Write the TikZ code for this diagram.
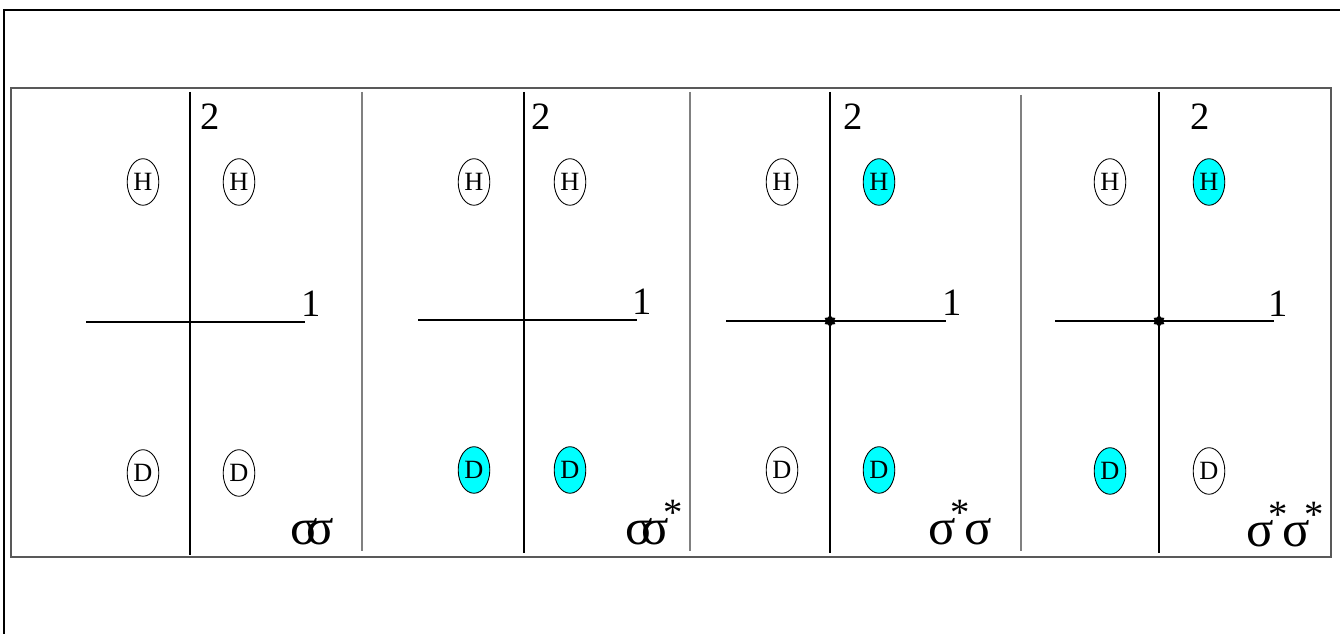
\documentclass[tikz,border=0pt]{standalone}
\usepackage{fontspec}
\setmainfont{Liberation Serif}
\usetikzlibrary{shapes.geometric}
\definecolor{aqua}{RGB}{0,255,255}
\newcommand{\starsup}{\raisebox{.38em}{\fontsize{22}{22}\selectfont*}}
\begin{document}
\begin{tikzpicture}[x=0.02cm,y=-0.02cm,
 atom/.style={draw,ellipse,line width=.5pt,minimum width=18pt,minimum height=26.5pt,inner sep=0pt,font=\fontsize{15}{15}\selectfont},
 hit/.style={atom,fill=aqua},
 axline/.style={line width=.6pt},
 axlinebold/.style={line width=1.1pt},
 sep/.style={draw=gray,line width=.6pt},
 num/.style={font=\fontsize{22}{22}\selectfont,inner sep=0pt},
 sig/.style={font=\fontsize{29}{29}\selectfont,inner sep=0pt,anchor=base west},
 cross/.style={star,star points=6,fill,inner sep=0pt,minimum size=7pt}]
\useasboundingbox(0,0)rectangle(1340,634);
\draw[line width=1.2pt](1340,10)--(4,10)--(4,634);
\draw[draw=gray!70!black,line width=.6pt](11,88)rectangle(1331,557);
\draw[sep](362,92)--(362,551);\draw[sep](690,92)--(690,551);\draw[sep](1021,95)--(1021,551);
% panel 1
\coordinate(v1t)at(190,92);\coordinate(v1b)at(190,555);\coordinate(h1l)at(86,322);\coordinate(h1r)at(305,322);
\draw[axline](v1t)--(v1b);\draw[axline](h1l)--(h1r);
\node[num](two1)at(210,117){2};\node[num](one1)at(311,304){1};
\node[atom](hl1)at(143,182){H};\node[atom](hr1)at(239,182){H};
\node[atom](dl1)at(143,473){D};\node[atom](dr1)at(239,473){D};
\node[sig](lab1)at(290,545){σ\kern-.22emσ};
% panel 2
\coordinate(v2t)at(524,92);\coordinate(v2b)at(524,553);\coordinate(h2l)at(418,320);\coordinate(h2r)at(637,320);
\draw[axline](v2t)--(v2b);\draw[axline](h2l)--(h2r);
\node[num](two2)at(541,117){2};\node[num](one2)at(642,302){1};
\node[atom](hl2)at(474,182){H};\node[atom](hr2)at(570,182){H};
\node[hit](dl2)at(474,470){D};\node[hit](dr2)at(570,470){D};
\node[sig](lab2)at(625,545){σ\kern-.22emσ\kern-.1em\starsup};
% panel 3
\coordinate(v3t)at(830,92);\coordinate(v3b)at(830,553);\coordinate(h3l)at(726,321);\coordinate(h3r)at(946,321);
\draw[axlinebold](v3t)--(v3b);\draw[axlinebold](h3l)--(h3r);\node[cross](o3)at(830,321){};
\node[num](two3)at(853,117){2};\node[num](one3)at(952,303){1};
\node[atom](hl3)at(782,182){H};\node[hit](hr3)at(879,182){H};
\node[atom](dl3)at(782,470){D};\node[hit](dr3)at(879,470){D};
\node[sig](lab3)at(928,545){σ\kern-.11em\starsup\kern-.1emσ};
% panel 4
\coordinate(v4t)at(1159,92);\coordinate(v4b)at(1159,553);\coordinate(h4l)at(1055,321);\coordinate(h4r)at(1274,321);
\draw[axlinebold](v4t)--(v4b);\draw[axlinebold](h4l)--(h4r);\node[cross](o4)at(1159,321){};
\node[num](two4)at(1200,117){2};\node[num](one4)at(1278,304){1};
\node[atom](hl4)at(1110,182){H};\node[hit](hr4)at(1209,182){H};
\node[hit](dl4)at(1110,471){D};\node[atom](dr4)at(1209,471){D};
\node[sig](lab4)at(1246,547){σ\kern-.11em\starsup\kern-.1emσ\kern-.11em\starsup};
\end{tikzpicture}
\end{document}
